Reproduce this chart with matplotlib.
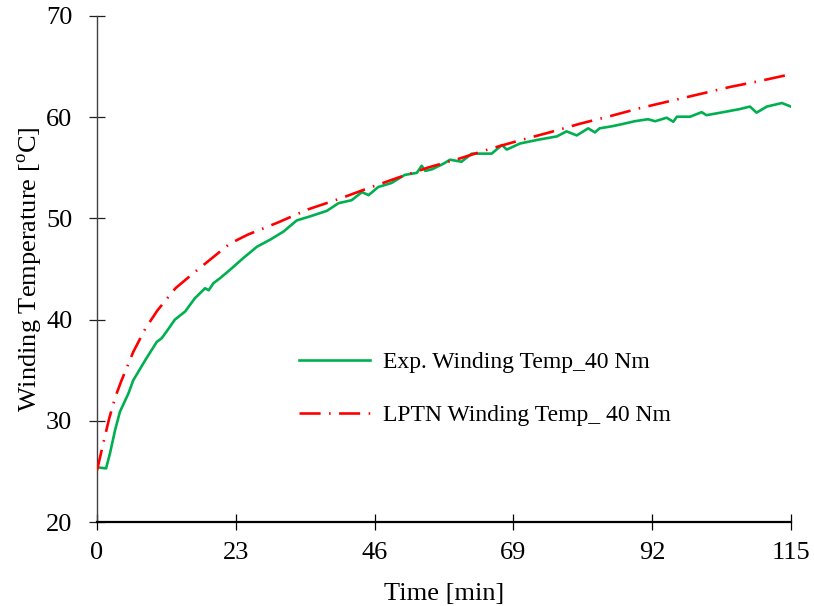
import matplotlib
matplotlib.use("Agg")
import matplotlib.pyplot as plt

plt.rcParams['font.family'] = ['Liberation Serif', 'DejaVu Serif']
plt.rcParams['mathtext.fontset'] = 'custom'
plt.rcParams['mathtext.rm'] = 'Liberation Serif'

# Measured winding temperature (time in min, temperature in degC)
exp_time = [0, 1.5, 2.15, 3.0, 3.8, 5.2, 6.0, 8.0, 9.9, 10.7, 11.5, 12.9, 14.6,
            16.2, 17.9, 18.5, 19.3, 20.4, 22.0, 24.2, 26.5, 28.7, 30.9, 33.1,
            35.3, 38.1, 40.0, 42.2, 43.9, 45.0, 46.6, 48.8, 51.0, 53.0, 53.8,
            54.4, 55.5, 57.4, 58.5, 60.4, 62.1, 63.7, 65.4, 67.1, 67.9, 70.1,
            72.9, 76.2, 77.8, 79.5, 81.4, 82.5, 83.3, 85.3, 86.9, 89.1, 91.3,
            92.5, 94.4, 95.5, 96.1, 98.3, 100.2, 101.0, 103.8, 106.5, 108.2,
            109.3, 111.0, 113.5, 115.0]
exp_temp = [25.4, 25.3, 26.8, 29.1, 30.9, 32.7, 34.0, 36.0, 37.8, 38.15, 38.8,
            40.0, 40.8, 42.1, 43.1, 42.9, 43.6, 44.1, 44.9, 46.06, 47.2, 47.9,
            48.7, 49.8, 50.2, 50.75, 51.5, 51.8, 52.6, 52.3, 53.1, 53.5, 54.3,
            54.5, 55.2, 54.7, 54.85, 55.4, 55.8, 55.6, 56.4, 56.4, 56.4, 57.25,
            56.8, 57.4, 57.75, 58.1, 58.6, 58.2, 58.9, 58.5, 58.9, 59.1, 59.3,
            59.6, 59.8, 59.6, 59.95, 59.55, 60.05, 60.05, 60.5, 60.2, 60.5, 60.8,
            61.05, 60.45, 61.05, 61.4, 61.05]

# LPTN model prediction
lptn_time = [0, 1, 2, 3, 4, 6, 8, 10, 13, 16, 19, 22, 25, 30, 35, 40, 45, 50,
             55, 60, 65, 70, 75, 80, 85, 90, 95, 100, 105, 110, 115]
lptn_temp = [25.1, 27.7, 30.2, 32.3, 33.9, 36.8, 39.1, 40.9, 43.1, 44.6, 46.05,
             47.5, 48.4, 49.6, 50.9, 51.9, 53.0, 54.05, 55.05, 55.9, 56.85, 57.7,
             58.5, 59.35, 60.1, 60.9, 61.6, 62.3, 63.0, 63.6, 64.25]

x_ticks = [0, 23, 46, 69, 92, 115]
y_ticks = [20, 30, 40, 50, 60, 70]

fig = plt.figure(figsize=(8.14, 6.06), dpi=100)
ax = fig.add_axes([0.1192, 0.1386, 0.8525, 0.835])

ax.plot(exp_time, exp_temp, color='#00B050', lw=1.9,
        label='Exp. Winding Temp_40 Nm', zorder=3)
ln, = ax.plot(lptn_time, lptn_temp, color='#FF0000', lw=1.9,
              label='LPTN Winding Temp_ 40 Nm', zorder=4)
ln.set_dashes((8, 3.2, 0.6, 3.2))

ax.set_xlim(0, 115)
ax.set_ylim(20, 70)
ax.set_xticks(x_ticks)
ax.set_yticks(y_ticks)

for side in ('top', 'right'):
    ax.spines[side].set_visible(False)
ax.spines['left'].set_color('#404040')
ax.spines['left'].set_linewidth(1.0)
ax.spines['bottom'].set_color('black')
ax.spines['bottom'].set_linewidth(1.6)

ax.tick_params(axis='both', direction='inout', length=11.5, width=0.9,
               labelsize=19, colors='black')
ax.tick_params(axis='y', pad=12, color='#202020')
ax.tick_params(axis='x', pad=9)

ax.set_xlabel('Time [min]', fontsize=19, labelpad=13)
ax.set_ylabel(r'Winding Temperature [$^{\mathrm{o}}$C]', fontsize=19, labelpad=1)

ax.legend(loc='upper left', bbox_to_anchor=(0.277, 0.355), frameon=False,
          fontsize=17, handlelength=3.0, handletextpad=0.55, labelspacing=1.32,
          borderaxespad=0)

fig.savefig('out.png', dpi=100)
